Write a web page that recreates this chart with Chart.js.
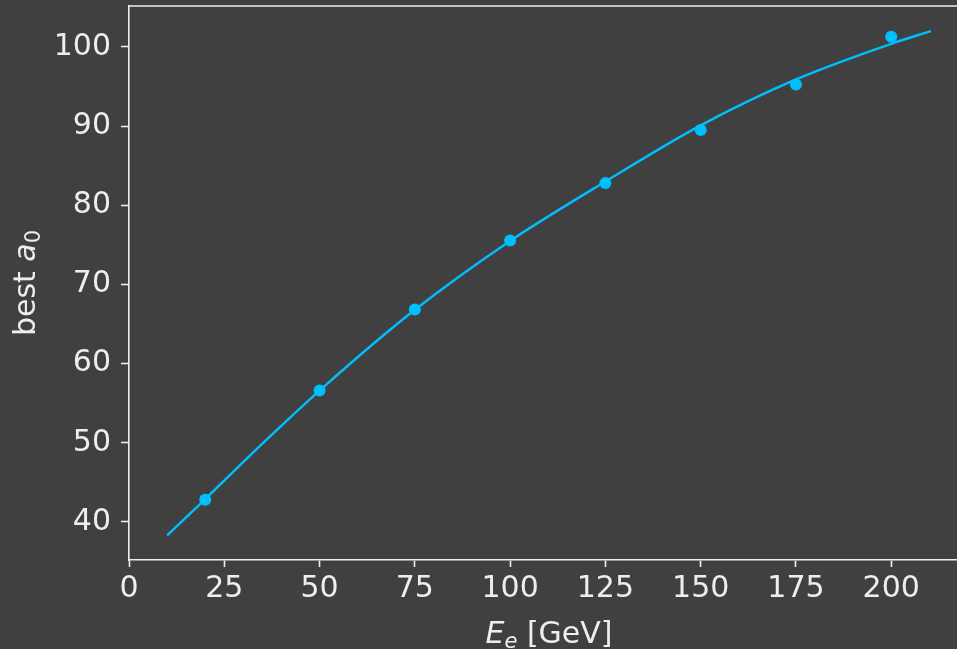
<!DOCTYPE html>
<html>
<head>
<meta charset="utf-8">
<script src="https://cdn.jsdelivr.net/npm/chart.js@4/dist/chart.umd.min.js"></script>
<style>
html,body{margin:0;padding:0;background:#404040;overflow:hidden;}
#wrap{width:957px;height:649px;overflow:hidden;}
</style>
</head>
<body>
<div id="wrap"><canvas id="c" width="975" height="649"></canvas></div>
<script>
// measured data points
const energies = [20, 50, 75, 100, 125, 150, 175, 200];
const bestA0 = [42.8, 56.6, 66.85, 75.55, 82.8, 89.5, 95.25, 101.3];
// fitted curve
const fitE = [10, 20, 35, 50, 75, 100, 125, 150, 175, 200, 210.4];
const fitA0 = [38.3, 42.9, 49.9, 56.6, 66.8, 75.5, 83.0, 90.1, 95.9, 100.4, 102.0];
// axes (plot frame extends past the right edge of the picture)
const xTicks = [0, 25, 50, 75, 100, 125, 150, 175, 200];
const yTicks = [40, 50, 60, 70, 80, 90, 100];
const xRange = [0, 220.4];
const yRange = [35.2, 105.17];

const FG = '#eeeeee';
const BLUE = '#00bfff';
const FONT = 'DejaVu Sans';
const FS = 30;

const spines = {
  id: 'spines',
  beforeDraw(chart) {
    const ctx = chart.ctx;
    ctx.save();
    ctx.fillStyle = '#404040';
    ctx.fillRect(0, 0, chart.width, chart.height);
    ctx.restore();
  },
  afterDraw(chart) {
    const ctx = chart.ctx, a = chart.chartArea;
    ctx.save();
    ctx.strokeStyle = FG;
    ctx.lineWidth = 1.6;
    ctx.beginPath();
    ctx.moveTo(a.left - 0.8, a.top);
    ctx.lineTo(a.right, a.top);
    ctx.stroke();
    // x axis label: E_e [GeV]
    const size = FS;
    const xc = (a.left + a.right) / 2;
    const yb = 643;
    const parts = [
      {t: 'E', f: `italic ${size}px ${FONT}`, dy: 0},
      {t: 'e', f: `italic ${Math.round(size*0.7)}px ${FONT}`, dy: 5},
      {t: ' [GeV]', f: `${size}px ${FONT}`, dy: 0}
    ];
    let w = 0;
    parts.forEach(p => { ctx.font = p.f; p.w = ctx.measureText(p.t).width; w += p.w; });
    let x = xc - w / 2;
    ctx.fillStyle = FG;
    ctx.textBaseline = 'alphabetic';
    ctx.textAlign = 'left';
    parts.forEach(p => { ctx.font = p.f; ctx.fillText(p.t, x, yb + p.dy); x += p.w; });
    // y axis label: best a_0
    const yparts = [
      {t: 'best ', f: `${size}px ${FONT}`, dy: 0},
      {t: 'a', f: `italic ${size}px ${FONT}`, dy: 0},
      {t: '0', f: `${Math.round(size*0.7)}px ${FONT}`, dy: 5}
    ];
    let wy = 0;
    yparts.forEach(p => { ctx.font = p.f; p.w = ctx.measureText(p.t).width; wy += p.w; });
    ctx.translate(35, (a.top + a.bottom) / 2);
    ctx.rotate(-Math.PI / 2);
    let xx = -wy / 2;
    yparts.forEach(p => { ctx.font = p.f; ctx.fillText(p.t, xx, p.dy); xx += p.w; });
    ctx.restore();
  }
};

new Chart(document.getElementById('c'), {
  type: 'scatter',
  data: {
    datasets: [
      {
        data: fitE.map((e, i) => ({x: e, y: fitA0[i]})),
        showLine: true,
        borderColor: BLUE,
        borderWidth: 2.4,
        pointRadius: 0,
        cubicInterpolationMode: 'monotone',
        order: 2
      },
      {
        data: energies.map((e, i) => ({x: e, y: bestA0[i]})),
        showLine: false,
        backgroundColor: BLUE,
        borderColor: BLUE,
        pointRadius: 6,
        pointBorderWidth: 0,
        order: 1
      }
    ]
  },
  options: {
    responsive: false,
    animation: false,
    devicePixelRatio: 1,
    layout: {padding: {top: 5, right: 0, left: 0, bottom: 0}},
    plugins: {legend: {display: false}, tooltip: {enabled: false}},
    scales: {
      x: {
        type: 'linear',
        min: xRange[0], max: xRange[1],
        afterBuildTicks: s => { s.ticks = xTicks.map(v => ({value: v})); },
        afterFit: s => { s.height = 89; s.paddingLeft = 0; s.paddingRight = 0; },
        grid: {drawOnChartArea: false, drawTicks: true, tickLength: 7, tickWidth: 1.6, color: FG},
        border: {display: true, color: FG, width: 1.6},
        ticks: {color: FG, font: {family: FONT, size: FS}, padding: 4, maxRotation: 0, autoSkip: false}
      },
      y: {
        type: 'linear',
        min: yRange[0], max: yRange[1],
        afterBuildTicks: s => { s.ticks = yTicks.map(v => ({value: v})); },
        afterFit: s => { s.width = 129; s.paddingTop = 0; s.paddingBottom = 0; },
        grid: {drawOnChartArea: false, drawTicks: true, tickLength: 8, tickWidth: 1.6, color: FG},
        border: {display: true, color: FG, width: 1.6},
        ticks: {color: FG, font: {family: FONT, size: FS}, padding: 10, autoSkip: false}
      }
    }
  },
  plugins: [spines]
});
</script>
</body>
</html>
